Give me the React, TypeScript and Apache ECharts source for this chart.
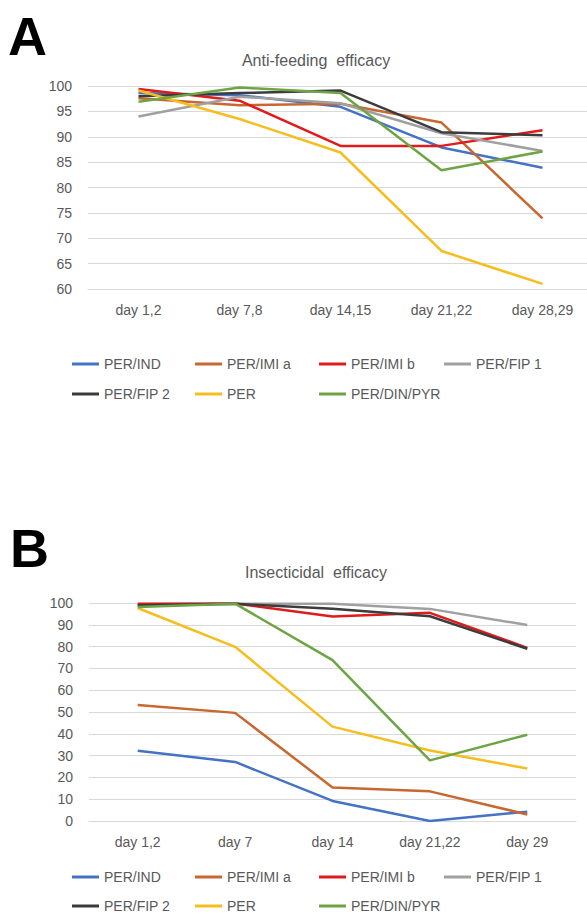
import React, { useEffect, useRef } from "react";
import * as echarts from "echarts";

// Series names and colours
const seriesNames = ["PER/IND", "PER/IMI a", "PER/IMI b", "PER/FIP 1", "PER/FIP 2", "PER", "PER/DIN/PYR"];
const seriesColors = ["#4472C4", "#C8672F", "#E01B1B", "#A0A0A0", "#3C3C3C", "#F5BE1E", "#6EA544"];

// Chart A – Anti-feeding efficacy
const daysA = ["day 1,2", "day 7,8", "day 14,15", "day 21,22", "day 28,29"];
const afIND = [98.6, 98.2, 95.9, 87.9, 83.9];
const afIMIa = [97.6, 96.2, 96.5, 92.8, 73.9];
const afIMIb = [99.4, 97.1, 88.2, 88.2, 91.3];
const afFIP1 = [94.0, 97.9, 96.6, 90.7, 87.2];
const afFIP2 = [98.0, 98.6, 99.1, 90.9, 90.3];
const afPER = [99.1, 93.5, 86.9, 67.5, 61.0];
const afDINPYR = [96.9, 99.7, 98.6, 83.4, 87.1];

// Chart B – Insecticidal efficacy
const daysB = ["day 1,2", "day 7", "day 14", "day 21,22", "day 29"];
const inIND = [32.2, 27.1, 9.2, 0, 4.3];
const inIMIa = [53.2, 49.6, 15.4, 13.6, 3.0];
const inIMIb = [99.6, 99.8, 93.8, 95.5, 79.4];
const inFIP1 = [98.6, 99.7, 99.6, 97.3, 89.9];
const inFIP2 = [99.0, 99.6, 97.4, 93.9, 79.0];
const inPER = [97.7, 79.9, 43.3, 32.3, 24.1];
const inDINPYR = [98.2, 99.7, 73.8, 27.8, 39.6];

const seriesA = [afIND, afIMIa, afIMIb, afFIP1, afFIP2, afPER, afDINPYR];
const seriesB = [inIND, inIMIa, inIMIb, inFIP1, inFIP2, inPER, inDINPYR];

const FONT = "'Liberation Sans', Arial, sans-serif";
const TEXT = "#595959";
const GRID = "#D9D9D9";

export default function App() {
  const ref = useRef<HTMLDivElement>(null);

  useEffect(() => {
    if (!ref.current) return;
    const chart = echarts.init(ref.current, undefined, { renderer: "svg" });

    const legendCols = [72, 195, 319, 444];
    const makeLegends = (rowTops: number[]) =>
      seriesNames.map((name, i) => ({
        data: [name],
        left: legendCols[i % 4],
        top: rowTops[Math.floor(i / 4)],
        icon: "rect",
        itemWidth: 27,
        itemHeight: 3,
        padding: 0,
        selectedMode: false,
        textStyle: { color: TEXT, fontSize: 14, fontFamily: FONT },
      }));

    const xAxisBase = (data: string[], gridIndex: number) => ({
      type: "category" as const,
      gridIndex,
      data,
      boundaryGap: true,
      axisTick: { show: false },
      axisLine: { show: true, lineStyle: { color: GRID, width: 1 } },
      axisLabel: { color: TEXT, fontSize: 14, fontFamily: FONT, margin: 14 },
      splitLine: { show: false },
    });

    const yAxisBase = (min: number, max: number, interval: number, gridIndex: number) => ({
      type: "value" as const,
      gridIndex,
      min,
      max,
      interval,
      axisLine: { show: false },
      axisTick: { show: false },
      axisLabel: { color: TEXT, fontSize: 14, fontFamily: FONT, margin: 16 },
      splitLine: { show: true, lineStyle: { color: GRID, width: 1 } },
    });

    const mkSeries = (arrs: number[][], idx: number) =>
      arrs.map((d, i) => ({
        type: "line" as const,
        name: seriesNames[i],
        xAxisIndex: idx,
        yAxisIndex: idx,
        data: d,
        color: seriesColors[i],
        lineStyle: { width: 2.5, color: seriesColors[i] },
        symbol: "none",
        showSymbol: false,
      }));

    chart.setOption({
      animation: false,
      backgroundColor: "#ffffff",
      grid: [
        { left: 88, top: 86, width: 505, height: 203, outerBoundsMode: "none", containLabel: false },
        { left: 89, top: 603, width: 487, height: 218, outerBoundsMode: "none", containLabel: false },
      ],
      xAxis: [xAxisBase(daysA, 0), xAxisBase(daysB, 1)],
      yAxis: [yAxisBase(60, 100, 5, 0), yAxisBase(0, 100, 10, 1)],
      legend: [...makeLegends([357, 387]), ...makeLegends([870, 899])],
      series: [...mkSeries(seriesA, 0), ...mkSeries(seriesB, 1)],
      graphic: [
        {
          type: "text",
          left: 8,
          top: 9,
          style: { text: "A", fontSize: 54, fontWeight: "bold", fontFamily: FONT, fill: "#000" },
        },
        {
          type: "text",
          left: 10,
          top: 521,
          style: { text: "B", fontSize: 54, fontWeight: "bold", fontFamily: FONT, fill: "#000" },
        },
        {
          type: "text",
          x: 316,
          y: 60,
          style: {
            text: "Anti-feeding  efficacy",
            fontSize: 16,
            fontFamily: FONT,
            fill: TEXT,
            align: "center",
            verticalAlign: "middle",
          },
        },
        {
          type: "text",
          x: 316,
          y: 572,
          style: {
            text: "Insecticidal  efficacy",
            fontSize: 16,
            fontFamily: FONT,
            fill: TEXT,
            align: "center",
            verticalAlign: "middle",
          },
        },
      ],
    });

    return () => chart.dispose();
  }, []);

  return (
    <div
      ref={ref}
      style={{ position: "absolute", left: 0, top: 0, width: 587, height: 916, background: "#fff" }}
    />
  );
}
